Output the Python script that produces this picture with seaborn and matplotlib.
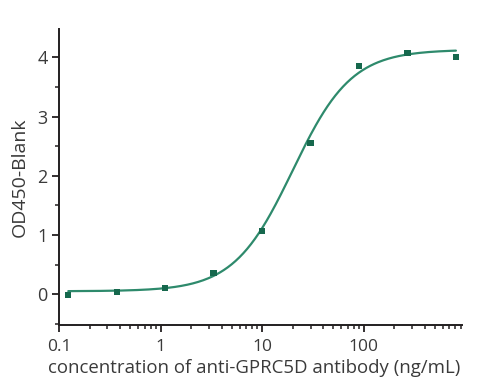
import numpy as np
import pandas as pd
import matplotlib
matplotlib.use("Agg")
import matplotlib.pyplot as plt
import matplotlib.ticker as mticker
import seaborn as sns

# Data
concentration = [0.1235, 0.37, 1.11, 3.33, 10, 30, 90, 270, 810]
od450 = [-0.01, 0.04, 0.10, 0.36, 1.07, 2.55, 3.85, 4.08, 4.01]

# 4PL fit parameters
fit_bottom = 0.05
fit_top = 4.13
fit_ec50 = 20.0
fit_hill = 1.5

x_ticks = [0.1, 1, 10, 100]
x_ticklabels = ["0.1", "1", "10", "100"]
y_ticks = [0, 1, 2, 3, 4]

sns.set_theme(style="ticks")
plt.rcParams["font.family"] = ["Open Sans", "DejaVu Sans"]

fig = plt.figure(figsize=(4.85, 3.88), dpi=100)
ax = fig.add_axes([0.1216, 0.1624, 0.831, 0.7629])

xs = np.logspace(np.log10(concentration[0]), np.log10(concentration[-1]), 300)
ys = fit_bottom + (fit_top - fit_bottom) / (1 + (fit_ec50 / xs) ** fit_hill)
curve = pd.DataFrame({"x": xs, "y": ys})
pts = pd.DataFrame({"x": concentration, "y": od450})

sns.lineplot(data=curve, x="x", y="y", ax=ax, color="#2e8a6c", linewidth=1.6)
sns.scatterplot(data=pts, x="x", y="y", ax=ax, marker="s", s=20,
                color="#16684d", edgecolor="none", zorder=3)

ax.set_xscale("log")
ax.set_xlim(0.1, 930)
ax.set_ylim(-0.52, 4.48)
ax.set_xticks(x_ticks)
ax.set_xticklabels(x_ticklabels)
ax.xaxis.set_minor_locator(mticker.LogLocator(base=10, subs=np.arange(2, 10), numticks=20))
ax.xaxis.set_minor_formatter(mticker.NullFormatter())
ax.set_yticks(y_ticks)
ax.yaxis.set_minor_locator(mticker.MultipleLocator(0.5))

for s in ["top", "right"]:
    ax.spines[s].set_visible(False)
for s in ["left", "bottom"]:
    ax.spines[s].set_color("#231f20")
    ax.spines[s].set_linewidth(1.4)

ax.tick_params(axis="both", which="major", direction="out", length=5, width=1.3,
               color="#231f20", labelcolor="#3a3a3a")
ax.tick_params(axis="x", which="major", labelsize=12.5, pad=5)
ax.tick_params(axis="y", which="major", labelsize=13, pad=3)
ax.tick_params(axis="both", which="minor", direction="out", length=3, width=1.1,
               color="#231f20")

ax.set_xlabel("concentration of anti-GPRC5D antibody (ng/mL)", fontsize=13.4,
              color="#3a3a3a", labelpad=1)
ax.xaxis.set_label_coords(0.485, -0.115)
ax.set_ylabel("OD450-Blank", fontsize=14, color="#3a3a3a", labelpad=6)

fig.savefig("out.png", dpi=100, facecolor="white")
